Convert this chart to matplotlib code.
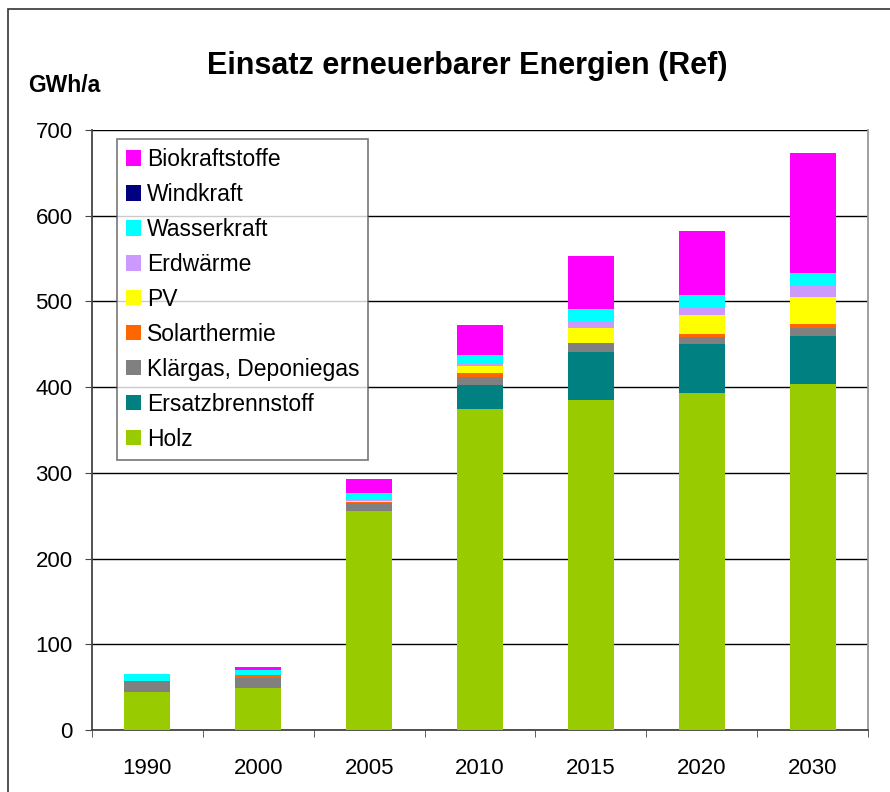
import matplotlib.pyplot as plt
import numpy as np
from matplotlib.patches import Rectangle

plt.rcParams['font.family'] = ['Liberation Sans', 'DejaVu Sans']

years = ["1990", "2000", "2005", "2010", "2015", "2020", "2030"]

# stacked from the bottom up
holz = [44, 49, 256, 374, 385, 393, 404]
ersatzbrennstoff = [0, 0, 0, 29, 56, 57, 56]
klaergas = [13, 12, 9, 9, 10, 8, 9]
solarthermie = [0.5, 2.7, 1, 4.7, 0.5, 3.9, 4.7]
pv = [0, 0, 1, 8, 18, 22, 31]
erdwaerme = [0, 0.5, 1, 3.5, 7, 8.5, 13]
wasserkraft = [7.5, 6, 9, 9, 15, 15, 16]
windkraft = [0, 0, 0, 0, 0, 0, 0]
biokraftstoffe = [0, 3, 16, 35, 62, 75, 139]

series = [
    ("Holz", holz, "#99CC00"),
    ("Ersatzbrennstoff", ersatzbrennstoff, "#008080"),
    ("Klärgas, Deponiegas", klaergas, "#808080"),
    ("Solarthermie", solarthermie, "#FF6600"),
    ("PV", pv, "#FFFF00"),
    ("Erdwärme", erdwaerme, "#CC99FF"),
    ("Wasserkraft", wasserkraft, "#00FFFF"),
    ("Windkraft", windkraft, "#000080"),
    ("Biokraftstoffe", biokraftstoffe, "#FF00FF"),
]


def main():
    fig = plt.figure(figsize=(8.9, 7.92), dpi=100)
    fig.patches.append(Rectangle((8 / 890, -0.1), 1.2, 1 - 9 / 792 + 0.1,
                                 transform=fig.transFigure, fill=False,
                                 edgecolor="#333333", linewidth=1.2))
    ax = fig.add_axes([92 / 890, 62 / 792, 776 / 890, 600 / 792])

    x = np.arange(len(years))
    bottom = np.zeros(len(years))
    handles = []
    for name, vals, color in series:
        b = ax.bar(x, vals, width=0.415, bottom=bottom, color=color,
                   label=name, zorder=3)
        bottom += np.array(vals)
        handles.append(b)

    ax.set_xlim(-0.5, len(years) - 0.5)
    ax.set_ylim(0, 700)
    ax.set_yticks(range(0, 701, 100))
    ax.yaxis.grid(True, color="black", linewidth=1, zorder=0)
    ax.set_axisbelow(True)
    ax.set_xticks(x)
    ax.set_xticklabels(years)
    ax.set_xticks(np.arange(-0.5, len(years), 1), minor=True)
    ax.tick_params(axis="x", which="major", length=0, pad=20, labelsize=16)
    ax.tick_params(axis="x", which="minor", length=5, color="#444444")
    ax.tick_params(axis="y", length=5, labelsize=16, pad=9, color="#444444")

    ax.spines["top"].set_visible(False)
    ax.spines["left"].set_color("#444444")
    ax.spines["bottom"].set_color("#444444")
    ax.spines["right"].set_color("#999999")
    for s in ax.spines.values():
        s.set_linewidth(1.3)

    leg = ax.legend(handles[::-1], [s[0] for s in series][::-1],
                    loc="upper left",
                    bbox_to_anchor=(25 / 776, (730 - 139) / 600),
                    borderaxespad=0, fontsize=16.5, frameon=True,
                    fancybox=False, handlelength=0.65, handleheight=0.65,
                    handletextpad=0.25, labelspacing=0.52,
                    borderpad=0.4)
    leg.get_frame().set_edgecolor("#555555")
    leg.get_frame().set_linewidth(1.2)
    leg.set_zorder(5)

    fig.text(467 / 890, 1 - 66 / 792, "Einsatz erneuerbarer Energien (Ref)",
             ha="center", va="center", fontsize=22, fontweight="bold")
    fig.text(28 / 890, 1 - 86 / 792, "GWh/a", ha="left", va="center",
             fontsize=16.5, fontweight="bold")

    fig.savefig("out.png", dpi=100)


if __name__ == "__main__":
    main()
